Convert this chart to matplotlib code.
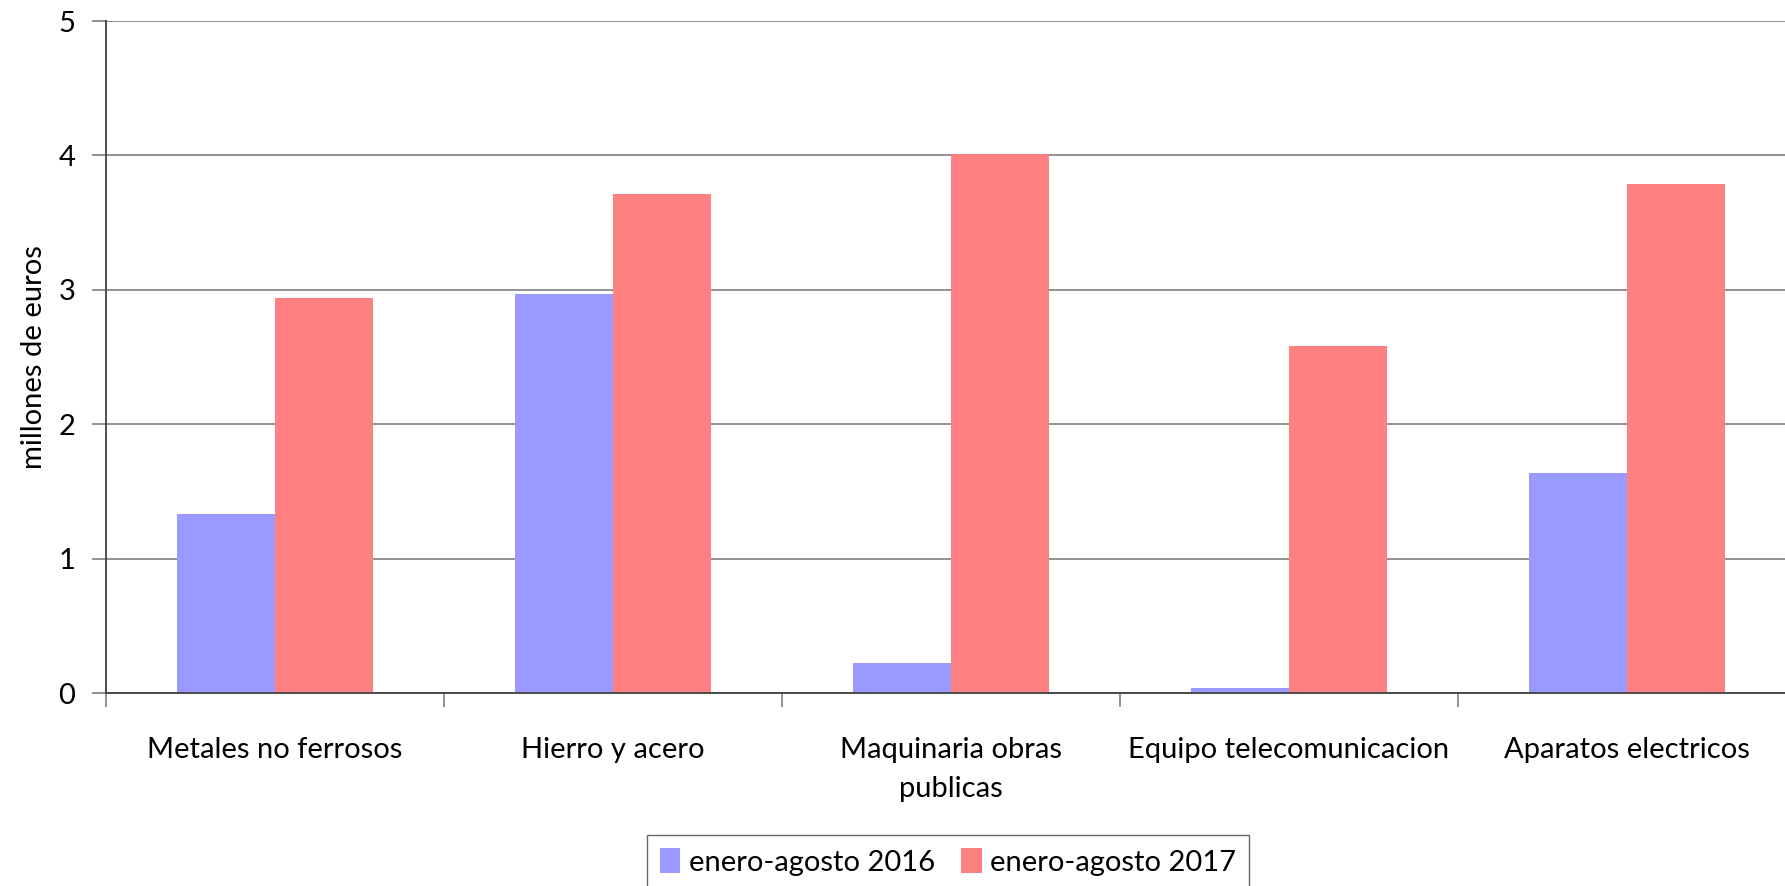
import numpy as np
import matplotlib.pyplot as plt

# Values (millones de euros)
categorias = ['Metales no ferrosos', 'Hierro y acero', 'Maquinaria obras\npublicas',
              'Equipo telecomunicacion', 'Aparatos electricos']
valores_2016 = [1.33, 2.97, 0.22, 0.04, 1.64]
valores_2017 = [2.94, 3.71, 4.01, 2.58, 3.79]
series = ['enero-agosto 2016', 'enero-agosto 2017']
yticks = [0, 1, 2, 3, 4, 5]

plt.rcParams['font.family'] = ['Lato', 'DejaVu Sans']
FS = 21

W, H = 1785, 886
fig = plt.figure(figsize=(W / 100, H / 100), dpi=100)
# axes from x=106 to 1796 px (runs past the right edge), y from 693 to 21 px
ax = fig.add_axes([106 / W, (H - 693) / H, (1796 - 106) / W, (693 - 21) / H])

x = np.arange(len(categorias))
w = 0.29
ax.bar(x - w / 2, valores_2016, w, color='#9999FF', label=series[0], zorder=2)
ax.bar(x + w / 2, valores_2017, w, color='#FF8080', label=series[1], zorder=2)

ax.set_xlim(-0.5, len(categorias) - 0.5)
ax.set_ylim(0, 5)
ax.set_yticks(yticks)
ax.yaxis.grid(True, color='#7f7f7f', linewidth=1.2, zorder=0)
ax.set_axisbelow(True)

for s in ['top', 'right']:
    ax.spines[s].set_visible(False)
ax.spines['left'].set_color('#404040')
ax.spines['bottom'].set_color('#404040')
ax.spines['left'].set_linewidth(1.3)
ax.spines['bottom'].set_linewidth(1.3)

ax.set_xticks(np.arange(len(categorias) + 1) - 0.5, minor=False)
ax.set_xticklabels([])
ax.set_xticks(x, minor=True)
ax.set_xticklabels(categorias, minor=True, fontsize=FS, linespacing=1.58)
ax.tick_params(axis='x', which='major', direction='out', length=10, color='#7f7f7f', width=1.2)
ax.tick_params(axis='x', which='minor', length=0, pad=32)
ax.tick_params(axis='y', direction='out', length=10, color='#7f7f7f', width=1.2, labelsize=FS, pad=12)

ax.set_ylabel('millones de euros', fontsize=FS, labelpad=8)

leg = fig.legend(loc='center', bbox_to_anchor=(948 / W, 1 - 862 / H), ncol=2, fontsize=FS,
                 frameon=True, fancybox=False, edgecolor='#404040', handlelength=0.7,
                 handleheight=0.9, handletextpad=0.3, columnspacing=0.9, borderpad=0.45)
leg.get_frame().set_linewidth(1.0)

fig.savefig('out.png', dpi=100)
